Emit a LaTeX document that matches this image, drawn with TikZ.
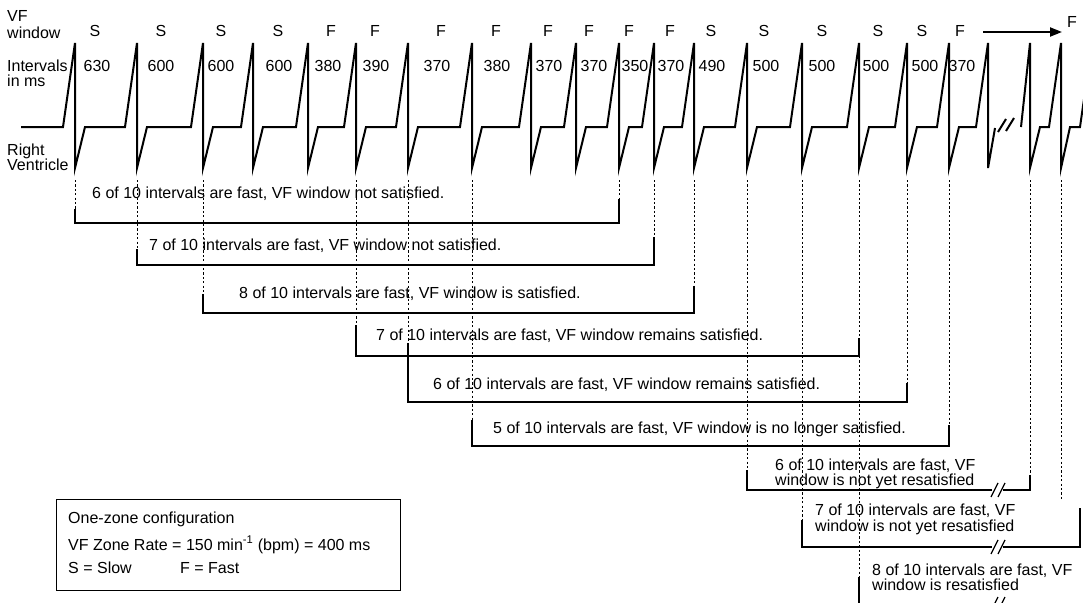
\documentclass[tikz,border=0pt]{standalone}
\usepackage{fontspec}
\setmainfont{Liberation Sans}
\usetikzlibrary{arrows.meta}
\begin{document}
\begin{tikzpicture}[x=1pt,y=-1pt,
  font=\fontsize{16}{16}\selectfont,
  wave/.style={line width=2pt},
  brk/.style={line width=1.3pt},
  dsh/.style={line width=0.9pt, dash pattern=on 2.2pt off 2.2pt},
  lbl/.style={inner sep=0pt, anchor=base},
  stmt/.style={inner sep=0pt, anchor=base west}]
\useasboundingbox (0,0) rectangle (1083,602);
% left labels
\node[stmt] (vf1) at (7,22) {VF};
\node[stmt] (vf2) at (7,38) {window};
\node[stmt] (iv1) at (7,71) {Intervals};
\node[stmt] (iv2) at (7,86) {in ms};
\node[stmt] (rv1) at (7,155) {Right};
\node[stmt] (rv2) at (7,170) {Ventricle};
% window labels
\foreach \x/\t [count=\i] in {95/S,161/S,221/S,278/S,331/F,375/F,441/F,496/F,548/F,589/F,629/F,670/F,711/S,764/S,822/S,878/S,922/S,960/F}
  \node[lbl] (w\i) at (\x,37) {\t};
\node[lbl] (wlast) at (1072,28) {F};
% interval labels
\foreach \x/\t [count=\i] in {97/630,161/600,221/600,279/600,328/380,376/390,437/370,497/380,549/370,594/370,635/350,671/370,712/490,766/500,822/500,876/500,925/500,962/370}
  \node[lbl] (n\i) at (\x,71) {\t};
% arrow
\coordinate (arrS) at (983,32);
\coordinate (arrE) at (1062,32);
\draw[line width=2pt,-{Triangle[length=12pt,width=9pt]}] (arrS) -- (arrE);
% spikes
\foreach \s [count=\i] in {75,137,203,253,308,356,408,472,531,576,619,654,694,747,802,859,907,949,988,1030,1061}
  \coordinate (s\i) at (\s,180);
% wave
\draw[wave] (21,127) foreach \s in {75,137,203,253,308,356,408,472,531,576,619,654,694,747,802,859,907,949}
  { -- (\s-12,127) -- (\s,43) -- (\s,168) -- (\s+10,127) }
  -- (976,127) -- (988,43) -- (988,168) -- (995,128);
\draw[wave] (1021,127) -- (1030,43) -- (1030,168) -- (1040,127) -- (1049,127)
  -- (1061,43) -- (1061,168) -- (1070,127) -- (1080,127) -- (1092,43);
\draw[wave] (998,132) -- (1006,119);
\draw[wave] (1006,131) -- (1014,118);
% dashed guides
\draw[dsh] (s1) -- ++(0,29);
\draw[dsh] (s2) -- ++(0,69);
\draw[dsh] (s3) -- ++(0,114);
\draw[dsh] (s6) -- ++(0,145);
\draw[dsh] (s7) -- ++(0,163);
\draw[dsh] (s8) -- ++(0,240);
\draw[dsh] (s11) -- ++(0,19);
\draw[dsh] (s12) -- ++(0,57);
\draw[dsh] (s13) -- ++(0,106);
\draw[dsh] (s14) -- ++(0,290);
\draw[dsh] (s15) -- ++(0,340);
\draw[dsh] (s16) -- ++(0,158);
\draw[dsh] (859,356) -- (859,577);
\draw[dsh] (s17) -- ++(0,203);
\draw[dsh] (s18) -- ++(0,245);
\draw[dsh] (s20) -- ++(0,295);
\draw[dsh] (s21) -- ++(0,320);
% brackets
\draw[brk] (75,209) -- (75,223) -- (619,223) -- (619,199);
\draw[brk] (137,249) -- (137,265) -- (654,265) -- (654,237);
\draw[brk] (203,294) -- (203,313) -- (694,313) -- (694,286);
\draw[brk] (356,325) -- (356,356) -- (859,356) -- (859,338);
\draw[brk] (408,343) -- (408,402) -- (907,402) -- (907,383);
\draw[brk] (472,420) -- (472,446) -- (949,446) -- (949,425);
\draw[brk] (747,470) -- (747,490) -- (992,490);
\draw[brk] (1003,490) -- (1030,490) -- (1030,475);
\draw[brk] (991,497) -- (998,483);
\draw[brk] (998,497) -- (1005,483);
\draw[brk] (802,520) -- (802,547) -- (992,547);
\draw[brk] (1003,547) -- (1080,547) -- (1080,508);
\draw[brk] (991,554) -- (998,540);
\draw[brk] (998,554) -- (1005,540);
\draw[brk] (859,577) -- (859,604);
\draw[brk] (991,611) -- (998,597);
\draw[brk] (998,611) -- (1005,597);
% statements
\node[stmt] (t1) at (92,198) {6 of 10 intervals are fast, VF window not satisfied.};
\node[stmt] (t2) at (149,250) {7 of 10 intervals are fast, VF window not satisfied.};
\node[stmt] (t3) at (239,298) {8 of 10 intervals are fast, VF window is satisfied.};
\node[stmt] (t4) at (376,340) {7 of 10 intervals are fast, VF window remains satisfied.};
\node[stmt] (t5) at (433,389) {6 of 10 intervals are fast, VF window remains satisfied.};
\node[stmt] (t6) at (493,433) {5 of 10 intervals are fast, VF window is no longer satisfied.};
\node[stmt] (t7a) at (775,470) {6 of 10 intervals are fast, VF};
\node[stmt] (t7b) at (775,485) {window is not yet resatisfied};
\node[stmt] (t8a) at (815,515) {7 of 10 intervals are fast, VF};
\node[stmt] (t8b) at (815,531) {window is not yet resatisfied};
\node[stmt] (t9a) at (872,575) {8 of 10 intervals are fast, VF};
\node[stmt] (t9b) at (872,590) {window is resatisfied};
% legend
\node[draw, brk, anchor=north west, minimum width=344pt, minimum height=91pt, inner sep=0pt] (legend) at (56,499) {};
\node[stmt] (g1) at (68,523) {One-zone configuration};
\node[stmt] (g2) at (68,550) {VF Zone Rate = 150 min\textsuperscript{-1} (bpm) = 400 ms};
\node[stmt] (g3) at (68,573) {S = Slow};
\node[stmt] (g4) at (180,573) {F = Fast};
\end{tikzpicture}
\end{document}
